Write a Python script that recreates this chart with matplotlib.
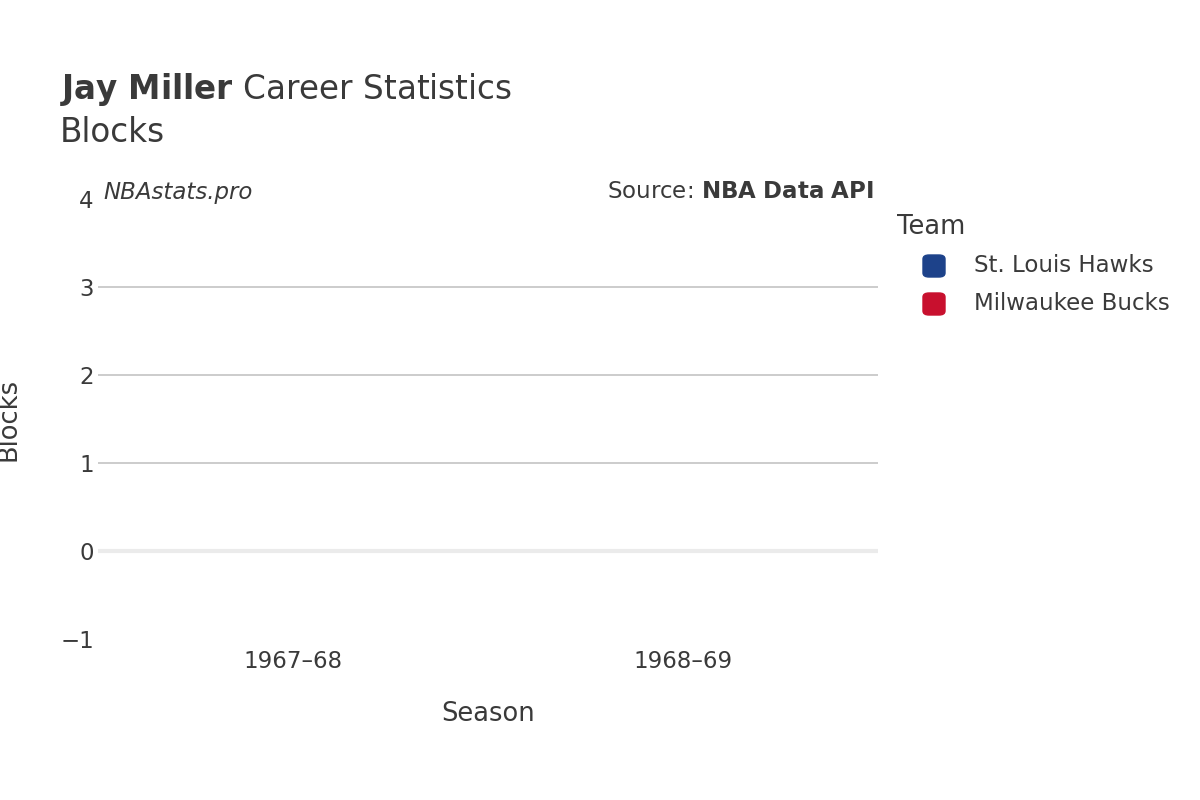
import matplotlib
matplotlib.use("Agg")
import matplotlib.pyplot as plt
import numpy as np

seasons = ["1967\u201368", "1968\u201369"]
teams = ["St. Louis Hawks", "Milwaukee Bucks"]
team_colors = ["#1d428a", "#c8102e"]
blocks_hawks = [0, None]
blocks_bucks = [None, 0]

plt.rcParams['font.family'] = ['DejaVu Sans']
txt = "#3a3a3a"

fig = plt.figure(figsize=(12, 8), dpi=100)
ax = fig.add_axes([98/1200, 161/800, 780/1200, 440/800])

x = np.arange(len(seasons))
for vals, col in [(blocks_hawks, team_colors[0]), (blocks_bucks, team_colors[1])]:
    for xi, v in zip(x, vals):
        if v is not None:
            ax.bar(xi, v, width=0.8, color=col)

ax.set_xlim(-0.5, 1.5)
ax.set_ylim(-1, 4)
ax.set_yticks([-1, 0, 1, 2, 3, 4])
ax.set_yticklabels(["\u22121", "0", "1", "2", "3", "4"])
ax.set_xticks(x)
ax.set_xticklabels(seasons)
for y in [1, 2, 3]:
    ax.axhline(y, color="#c4c4c4", lw=1.2, zorder=0)
ax.axhline(0, color="#ebebeb", lw=3, zorder=0)
for s in ax.spines.values():
    s.set_visible(False)
ax.tick_params(length=0, labelsize=16.5, colors=txt)
ax.tick_params(axis='y', pad=3)
ax.tick_params(axis='x', pad=8)
ax.set_xlabel("Season", fontsize=18.5, color=txt, labelpad=20)
ax.set_ylabel("Blocks", fontsize=18.5, color=txt, labelpad=28)

fig.text(60/1200, 1 - 89/800, r"$\bf{Jay\ Miller}$ Career Statistics", fontsize=23.5, color=txt, va="center")
fig.text(60/1200, 1 - 133/800, "Blocks", fontsize=23.5, color=txt, va="center")
fig.text(103/1200, 1 - 192/800, "NBAstats.pro", fontsize=16.5, style="italic", color=txt, va="center")
fig.text(874/1200, 1 - 192/800, r"Source: $\bf{NBA\ Data\ API}$", fontsize=16.5, color=txt, va="center", ha="right")

fig.text(897/1200, 1 - 227/800, "Team", fontsize=18.5, color=txt, va="center")
for i, (t, c) in enumerate(zip(teams, team_colors)):
    yy = 1 - (266 + 38 * i)/800
    fig.patches.append(matplotlib.patches.FancyBboxPatch((923/1200, yy - 11/800), 22/1200, 22/800,
                       boxstyle="round,pad=0,rounding_size=0.005", transform=fig.transFigure,
                       color=c))
    fig.text(974/1200, yy, t, fontsize=16.5, color=txt, va="center")

fig.savefig("out.png")
